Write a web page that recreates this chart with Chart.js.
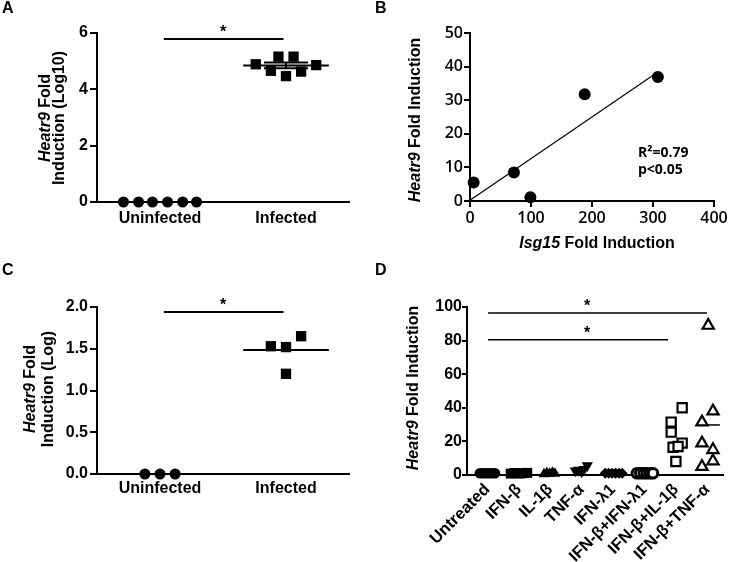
<!DOCTYPE html>
<html>
<head>
<meta charset="utf-8"/>
<title>Heatr9 induction</title>
<script src="https://cdn.jsdelivr.net/npm/chart.js"></script>
<style>
	body { margin:0; background:#fff; }
	canvas { position:absolute; }
</style>
</head>
<body>
<canvas id="cA" width="370" height="255" style="left:0;top:0"></canvas>
<canvas id="cB" width="370" height="255" style="left:370px;top:0"></canvas>
<canvas id="cC" width="370" height="307" style="left:0;top:255px"></canvas>
<canvas id="cD" width="370" height="307" style="left:370px;top:255px"></canvas>
<script>
// ---- panel A : Heatr9 fold induction (Log10), mice ----
const groupsA = ['Uninfected', 'Infected'];
const uninfA  = [0, 0, 0, 0, 0, 0];
const uninfAx = [-0.29, -0.17, -0.06, 0.06, 0.18, 0.29];
const infA    = [4.89, 4.66, 5.16, 4.47, 5.16, 4.63, 4.86];
const infAx   = [-0.24, -0.12, -0.06, 0, 0.06, 0.12, 0.24];
const meanA   = [0, 4.85];
const semA    = [0, 0.1];
const sigA    = [[0.03, 0.98, 5.79, 0.5]];   // from, to, y, star x
const ticksA  = [0, 2, 4, 6];

// ---- panel B : Heatr9 vs Isg15 ----
const isg15   = [6, 72, 99, 188, 308];
const heatr9B = [5.5, 8.5, 1.1, 31.8, 36.9];
const fitBx   = [0, 305];
const fitBy   = [0.2, 38];

// ---- panel C : Heatr9 fold induction (Log), cells ----
const groupsC = ['Uninfected', 'Infected'];
const uninfC  = [0, 0, 0];
const uninfCx = [-0.12, 0, 0.12];
const infC    = [1.53, 1.52, 1.65, 1.2];
const infCx   = [-0.12, 0, 0.12, 0];
const meanC   = [0, 1.485];
const sigC    = [[0.03, 0.98, 1.94, 0.5]];

// ---- panel D : cytokine treatments ----
const groupsD = ['Untreated', 'IFN-β', 'IL-1β', 'TNF-α', 'IFN-λ1', 'IFN-β+IFN-λ1', 'IFN-β+IL-1β', 'IFN-β+TNF-α'];
const valuesD = [
	[1, 1, 1, 1, 1, 1],
	[0.8, 1.2, 1.0, 0.9, 1.1, 1.3],
	[0.6, 1.2, 0.9, 1.4, 0.8],
	[2.5, 3, 2, 3.4, 5.7],
	[1, 1, 1, 1, 1, 1],
	[1, 1, 1, 1, 1, 1],
	[40, 31.5, 25.5, 16.5, 19, 17, 8],
	[89, 38, 31.5, 19, 15, 8.3, 5]
];
const offsetsD = [
	[-0.24, -0.14, -0.05, 0.05, 0.14, 0.24],
	[-0.26, -0.15, -0.05, 0.06, 0.16, 0.27],
	[-0.2, -0.11, -0.02, 0.07, 0.15],
	[-0.2, -0.1, 0, 0.08, 0.18],
	[-0.25, -0.14, -0.03, 0.08, 0.19, 0.29],
	[-0.24, -0.13, -0.02, 0.08, 0.18, 0.27],
	[0.2, -0.15, -0.15, -0.09, 0.2, 0.07, 0],
	[0.03, 0.18, -0.17, -0.17, 0.18, 0.18, -0.17]
];
const meanD   = [[7, 29.8, -0.35, 0.4]];        // group, mean, from, to
const sigD    = [[0.02, 6.99, 96.4, 3.17], [0.02, 5.75, 80.5, 3.17]];

const SANS = "'Liberation Sans', Arial, sans-serif";
const OPEN = "'Open Sans', sans-serif";

function pts(xs, ys, gi) { return ys.map((v, i) => ({ x: gi + xs[i], y: v })); }
function seg(x1, x2, y1, y2, w) {
	return { data: [{ x: x1, y: y1 }, { x: x2, y: y2 }], showLine: true, pointRadius: 0,
		borderColor: '#000', borderWidth: w || 2, clip: false, order: 5 };
}
function marks(data, style, r, open, rot) {
	return { data: data, pointStyle: style, pointRadius: r, pointRotation: rot || 0,
		backgroundColor: open ? '#fff' : '#000', borderColor: '#000',
		borderWidth: open ? open : 0, clip: false, order: 1 };
}

function drawRich(ctx, t) {
	ctx.save();
	ctx.translate(t.x, t.y);
	if (t.rot) ctx.rotate(t.rot);
	ctx.fillStyle = '#000';
	ctx.textBaseline = 'alphabetic';
	ctx.textAlign = 'left';
	const fonts = t.parts.map(p => (p[1] ? 'italic ' : '') + (t.weight || 'bold') + ' ' + t.size + 'px ' + (t.family || SANS));
	let w = 0;
	const ws = t.parts.map((p, i) => { ctx.font = fonts[i]; const m = ctx.measureText(p[0]).width; w += m; return m; });
	let x = t.align === 'left' ? 0 : -w / 2;
	t.parts.forEach((p, i) => { ctx.font = fonts[i]; ctx.fillText(p[0], x, 0); x += ws[i]; });
	ctx.restore();
}

const overlay = {
	id: 'overlay',
	afterDraw(chart, args, opts) {
		const ctx = chart.ctx;
		(opts.texts || []).forEach(t => drawRich(ctx, t));
		(opts.sig || []).forEach(s => {
			const x = chart.scales.x.getPixelForValue(s[3]);
			const y = chart.scales.y.getPixelForValue(s[2]);
			ctx.save();
			ctx.font = 'bold 16px ' + SANS;
			ctx.textAlign = 'center';
			ctx.textBaseline = 'alphabetic';
			ctx.fillStyle = '#000';
			ctx.fillText('*', x, y - 2);
			ctx.restore();
		});
	}
};

function yAxis(min, max, step, width, tl, pad, font, fmt) {
	return {
		type: 'linear', min: min, max: max,
		afterFit: s => { s.width = width; },
		ticks: { stepSize: step, padding: pad, color: '#000', font: font,
			callback: v => fmt ? v.toFixed(fmt) : v },
		grid: { display: true, drawOnChartArea: false, drawTicks: true, tickLength: tl, color: '#000', lineWidth: 2 },
		border: { display: true, color: '#000', width: 2 }
	};
}
function xCat(groups, min, max, height, pad, font, rot) {
	return {
		type: 'linear', min: min, max: max,
		afterFit: s => { s.height = height; },
		afterBuildTicks: s => { s.ticks = groups.map((g, i) => ({ value: i })); },
		ticks: { padding: pad, color: '#000', font: font, autoSkip: false,
			minRotation: rot || 0, maxRotation: rot || 0,
			callback: v => groups[v] },
		grid: { display: true, drawOnChartArea: false, drawTicks: false, color: '#000' },
		border: { display: true, color: '#000', width: 2 }
	};
}
function base(pad, scales, over) {
	return {
		responsive: false, animation: false, devicePixelRatio: 1,
		layout: { padding: pad },
		scales: scales,
		plugins: { legend: { display: false }, tooltip: { enabled: false }, overlay: over }
	};
}
const bold16 = { family: SANS, size: 16, weight: 'bold' };

// ---------- A ----------
const dsA = [
	marks(pts(uninfAx, uninfA, 0), 'circle', 5.5),
	marks(pts(infAx, infA, 1), 'rect', 7.3)
];
meanA.forEach((m, i) => dsA.push(seg(i - 0.34, i + 0.34, m, m)));
semA.forEach((e, i) => {
	if (!e) return;
	dsA.push(seg(i - 0.175, i + 0.175, meanA[i] + e, meanA[i] + e));
	dsA.push(seg(i - 0.175, i + 0.175, meanA[i] - e, meanA[i] - e));
	dsA.push(seg(i, i, meanA[i] - e, meanA[i] + e));
});
sigA.forEach(s => dsA.push(seg(s[0], s[1], s[2], s[2])));
new Chart(document.getElementById('cA'), {
	type: 'scatter', data: { datasets: dsA }, plugins: [overlay],
	options: base({ left: 0, top: 33, right: 21, bottom: 0 }, {
		x: xCat(groupsA, -0.5, 1.5, 53, 7, bold16),
		y: Object.assign(yAxis(0, 6, 2, 97, 7, 2, bold16), { afterBuildTicks: s => { s.ticks = ticksA.map(v => ({ value: v })); } })
	}, {
		sig: sigA,
		texts: [
			{ x: 2, y: 13, parts: [['A']], size: 16, align: 'left' },
			{ x: 50, y: 118, rot: -Math.PI / 2, parts: [['Heatr9', true], [' Fold']], size: 16 },
			{ x: 63.5, y: 118, rot: -Math.PI / 2, parts: [['Induction (Log10)']], size: 16 }
		]
	})
});

// ---------- B ----------
const openFont = { family: OPEN, size: 16, weight: '600' };
const yB = yAxis(0, 50, 10, 100, 6, 1, openFont);
const xB = {
	type: 'linear', min: 0, max: 400,
	afterFit: s => { s.height = 54; },
	ticks: { stepSize: 100, padding: 2, color: '#000', font: openFont },
	grid: { display: true, drawOnChartArea: false, drawTicks: true, tickLength: 6, color: '#000', lineWidth: 2 },
	border: { display: true, color: '#000', width: 2 }
};
new Chart(document.getElementById('cB'), {
	type: 'scatter', plugins: [overlay],
	data: { datasets: [
		marks(isg15.map((x, i) => ({ x: x, y: heatr9B[i] })), 'circle', 6),
		seg(fitBx[0], fitBx[1], fitBy[0], fitBy[1], 1.2)
	] },
	options: base({ left: 0, top: 33, right: 26, bottom: 0 }, { x: xB, y: yB }, {
		texts: [
			{ x: 5, y: 13, parts: [['B']], size: 16, align: 'left' },
			{ x: 50, y: 120, rot: -Math.PI / 2, parts: [['Heatr9', true], [' Fold Induction']], size: 16 },
			{ x: 227, y: 248, parts: [['Isg15', true], [' Fold Induction']], size: 16 },
			{ x: 268, y: 157, parts: [['R²=0.79']], size: 14, family: OPEN, weight: 'bold', align: 'left' },
			{ x: 268, y: 174, parts: [['p<0.05']], size: 14, family: OPEN, weight: 'bold', align: 'left' }
		]
	})
});

// ---------- C ----------
const dsC = [
	marks(pts(uninfCx, uninfC, 0), 'circle', 5.5),
	marks(pts(infCx, infC, 1), 'rect', 7.3)
];
meanC.forEach((m, i) => dsC.push(seg(i - 0.34, i + 0.34, m, m)));
sigC.forEach(s => dsC.push(seg(s[0], s[1], s[2], s[2])));
new Chart(document.getElementById('cC'), {
	type: 'scatter', data: { datasets: dsC }, plugins: [overlay],
	options: base({ left: 0, top: 52, right: 21, bottom: 0 }, {
		x: xCat(groupsC, -0.5, 1.5, 88, 5, bold16),
		y: yAxis(0, 2, 0.5, 97, 7, 2, bold16, 1)
	}, {
		sig: sigC,
		texts: [
			{ x: 2, y: 20, parts: [['C']], size: 16, align: 'left' },
			{ x: 35, y: 134, rot: -Math.PI / 2, parts: [['Heatr9', true], [' Fold']], size: 16 },
			{ x: 53, y: 134, rot: -Math.PI / 2, parts: [['Induction (Log)']], size: 16 }
		]
	})
});

// ---------- D ----------
const stylesD = [
	['circle', 5.3, 0, 0], ['rect', 7, 0, 0], ['triangle', 6.3, 0, 0], ['triangle', 6.5, 0, 180],
	['rectRot', 5.5, 0, 0], ['circle', 4.8, 3, 0], ['rect', 6.5, 2.2, 0], ['triangle', 6.5, 2.2, 0]
];
const dsD = valuesD.map((vals, gi) => {
	const st = stylesD[gi];
	return marks(pts(offsetsD[gi], vals, gi), st[0], st[1], st[2], st[3]);
});
meanD.forEach(m => dsD.push(seg(m[0] + m[2], m[0] + m[3], m[1], m[1], 1.5)));
sigD.forEach(s => dsD.push(seg(s[0], s[1], s[2], s[2], 1.5)));
new Chart(document.getElementById('cD'), {
	type: 'scatter', data: { datasets: dsD }, plugins: [overlay],
	options: base({ left: 0, top: 52, right: 17, bottom: 0 }, {
		x: xCat(groupsD, -0.65, 7.5, 87, 5, { family: SANS, size: 16.5, weight: 'bold' }, 45),
		y: yAxis(0, 100, 20, 97, 5, 0, bold16)
	}, {
		sig: sigD,
		texts: [
			{ x: 5, y: 20, parts: [['D']], size: 16, align: 'left' },
			{ x: 48, y: 133, rot: -Math.PI / 2, parts: [['Heatr9', true], [' Fold Induction']], size: 16 }
		]
	})
});
</script>
</body>
</html>
